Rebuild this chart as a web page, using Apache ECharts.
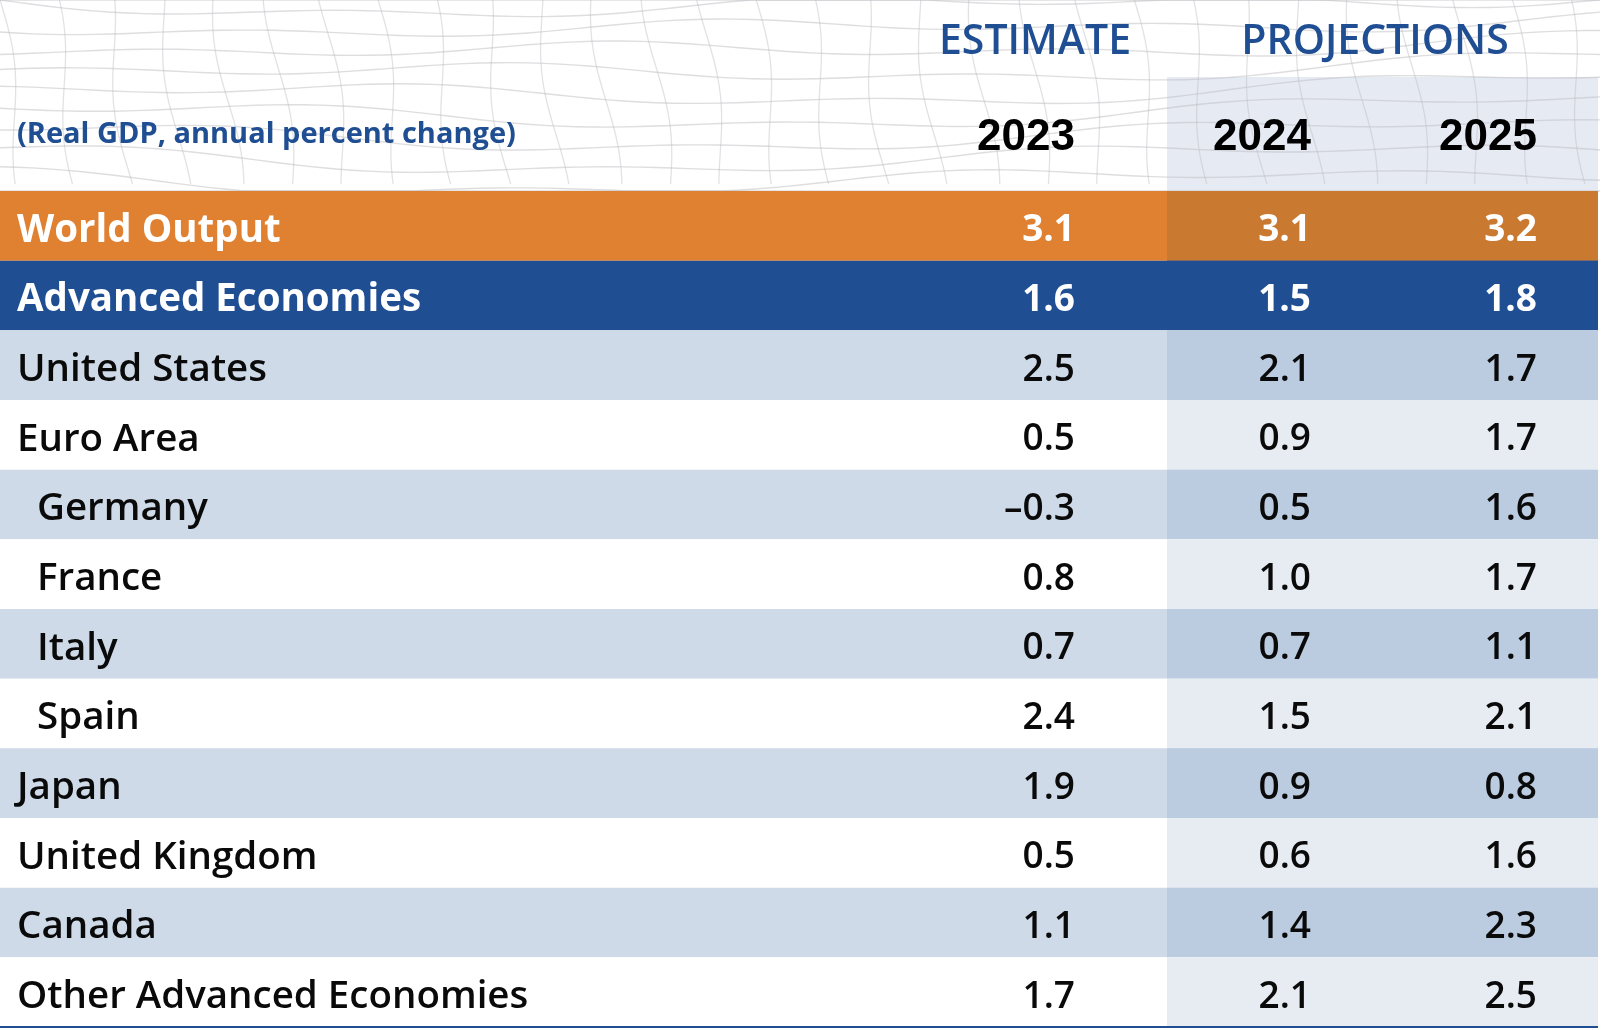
<!DOCTYPE html>
<html><head><meta charset="utf-8">
<script src="https://cdn.jsdelivr.net/npm/echarts@6/dist/echarts.min.js"></script>
<style>html,body{margin:0;padding:0;background:#fff}#c{width:1604px;height:1030px}</style>
</head><body><div id="c"></div><script>
// ---- data ----
const rowLabels = ['World Output','Advanced Economies','United States','Euro Area','Germany','France','Italy','Spain','Japan','United Kingdom','Canada','Other Advanced Economies'];
const rowLevel = [0,0,1,1,2,2,2,2,1,1,1,1];
const years = ['2023','2024','2025'];
const v2023 = [3.1,1.6,2.5,0.5,-0.3,0.8,0.7,2.4,1.9,0.5,1.1,1.7];
const v2024 = [3.1,1.5,2.1,0.9,0.5,1.0,0.7,1.5,0.9,0.6,1.4,2.1];
const v2025 = [3.2,1.8,1.7,1.7,1.6,1.7,1.1,2.1,0.8,1.6,2.3,2.5];
const headerGroups = ['ESTIMATE','PROJECTIONS'];
const subtitle = '(Real GDP, annual percent change)';

// ---- layout / style ----
const L = {tableRight:1598, projX:1167, colRight:[1075,1311,1537], yearRight:[1075,1311,1537],
  labelX:17, indentX:37, shadeTop:77, tableTop:191, tableBottom:1027, groupX:[1035,1375]};
const C = {orange:'#E08031', orangeP:'#C97A30', blue:'#1F4E93', light:'#CEDAE8', lightP:'#BBCBE0', white:'#FFFFFF', whiteP:'#E7ECF3', headShade:'#E6EAF2'};
const F = 'Open Sans';

function fmt(v){ return v < 0 ? '\u2013' + Math.abs(v).toFixed(1) : v.toFixed(1); }

const chart = echarts.init(document.getElementById('c'), null, {renderer:'canvas'});

// decorative mesh in header
const mesh = [];
for (let j = -1; j < 10; j++) {
  const pts = [];
  for (let x = 0; x <= 1604; x += 16) {
    let y = j*22 + 8*Math.sin(x/190 + j*0.7) + 5*Math.sin(x/73 + j*1.3) + 10*Math.sin(x/400);
    pts.push([x, Math.min(Math.max(y,0), L.tableTop)]);
  }
  mesh.push({type:'polyline', shape:{points:pts}, style:{stroke:'rgba(190,190,195,0.5)', lineWidth:1.4, fill:null}, silent:true});
}
for (let k = -3; k < 32; k++) {
  const pts = [];
  for (let y = 0; y <= L.tableTop; y += 8) {
    let x = k*54 + 0.12*y + 7*Math.sin(y/38 + k*0.9);
    pts.push([x, y]);
  }
  mesh.push({type:'polyline', shape:{points:pts}, style:{stroke:'rgba(190,190,195,0.45)', lineWidth:1.3, fill:null}, silent:true});
}

const graphics = [
  {type:'rect', shape:{x:L.projX, y:L.shadeTop, width:L.tableRight-L.projX, height:L.tableTop-L.shadeTop}, style:{fill:C.headShade}, z:0, silent:true},
  {type:'group', children:mesh, z:1},
  {type:'text', x:L.labelX, y:135, style:{text:subtitle, font:'bold 29px "'+F+'"', fill:C.blue, textVerticalAlign:'middle'}, z:5},
];
headerGroups.forEach((g,i)=>graphics.push({type:'text', x:L.groupX[i], y:42, style:{text:g, font:'600 41px "'+F+'"', fill:C.blue, textAlign:'center', textVerticalAlign:'middle'}, z:5}));
years.forEach((y,i)=>graphics.push({type:'text', x:L.yearRight[i], y:138, style:{text:y, font:'bold 44px "Liberation Sans"', fill:'#000', textAlign:'right', textVerticalAlign:'middle'}, z:5}));
graphics.push({type:'rect', shape:{x:0, y:L.tableBottom-1, width:L.tableRight, height:2}, style:{fill:C.blue}, z:5, silent:true});

const data = rowLabels.map((l,i)=>[0, i, v2023[i], v2024[i], v2025[i]]);

chart.setOption({
  animation:false,
  backgroundColor:'#fff',
  grid:{left:0, top:L.tableTop, width:L.tableRight, height:L.tableBottom-L.tableTop},
  xAxis:{type:'value', min:0, max:L.tableRight, show:false},
  yAxis:{type:'category', data:rowLabels, inverse:true, show:false},
  graphic:graphics,
  series:[{
    type:'custom',
    encode:{x:0, y:1},
    data:data,
    renderItem:function(params, api){
      const i = params.dataIndex;
      const c = api.coord([0, api.value(1)]);
      const h = api.size([0,1])[1];
      const y0 = c[1] - h/2;
      const xL = api.coord([0, i])[0];
      const xR = api.coord([L.tableRight, i])[0];
      const xP = api.coord([L.projX, i])[0];
      let bg, bgP, fg, bold;
      if (i === 0) { bg=C.orange; bgP=C.orangeP; fg='#fff'; bold=true; }
      else if (i === 1) { bg=C.blue; bgP=C.blue; fg='#fff'; bold=true; }
      else if (i % 2 === 0) { bg=C.light; bgP=C.lightP; fg='#0a0a0a'; bold=false; }
      else { bg=C.white; bgP=C.whiteP; fg='#0a0a0a'; bold=false; }
      const lfont = (bold ? '700 ' : '600 ') + '38.5px "' + F + '"';
      const vfont = (bold ? '700 ' : '600 ') + '37px "' + F + '"';
      const ty = c[1] + 5;
      const children = [
        {type:'rect', shape:{x:xL, y:y0, width:xR-xL, height:h}, style:{fill:bg}},
        {type:'rect', shape:{x:xP, y:y0, width:xR-xP, height:h}, style:{fill:bgP}},
        {type:'text', x:(rowLevel[i]===2?L.indentX:L.labelX), y:ty, style:{text:rowLabels[i], font:lfont, fill:fg, textVerticalAlign:'middle'}}
      ];
      for (let k=0;k<3;k++){
        const xv = api.coord([L.colRight[k], i])[0];
        children.push({type:'text', x:xv, y:ty, style:{text:fmt(api.value(2+k)), font:vfont, fill:fg, textAlign:'right', textVerticalAlign:'middle'}});
      }
      return {type:'group', children:children};
    }
  }]
});
</script></body></html>
